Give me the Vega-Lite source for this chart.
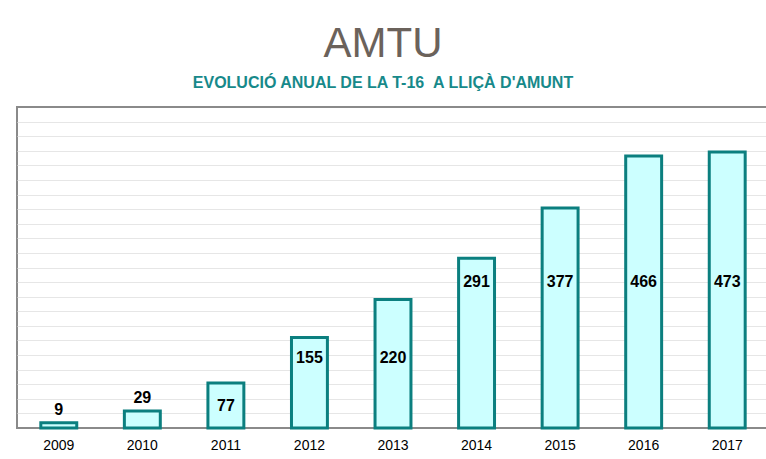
{
  "$schema": "https://vega.github.io/schema/vega-lite/v6.json",
  "width": 752,
  "height": 321,
  "padding": {"left": 17, "top": 23, "right": 0, "bottom": 0},
  "background": "white",
  "title": {
    "text": "AMTU",
    "subtitle": "EVOLUCIÓ ANUAL DE LA T-16\u00a0\u00a0A LLIÇÀ D'AMUNT",
    "anchor": "middle",
    "dx": -10,
    "font": "Liberation Sans",
    "fontSize": 42,
    "fontWeight": "normal",
    "color": "#6b625b",
    "subtitleFont": "Liberation Sans",
    "subtitleFontSize": 16,
    "subtitleFontWeight": "bold",
    "subtitleColor": "#17898a",
    "subtitlePadding": 9,
    "offset": 15
  },
  "data": {
    "values": [
      {"year": "2009", "value": 9},
      {"year": "2010", "value": 29},
      {"year": "2011", "value": 77},
      {"year": "2012", "value": 155},
      {"year": "2013", "value": 220},
      {"year": "2014", "value": 291},
      {"year": "2015", "value": 377},
      {"year": "2016", "value": 466},
      {"year": "2017", "value": 473}
    ]
  },
  "transform": [
    {"calculate": "datum.value < 50 ? datum.value + 22 : datum.value < 100 ? datum.value / 2 : datum.value < 250 ? 120 : 250", "as": "labelY"}
  ],
  "encoding": {
    "x": {
      "field": "year",
      "type": "ordinal",
      "title": null,
      "scale": {"paddingInner": 0.57, "paddingOuter": 0.285},
      "axis": {"labelAngle": 0, "ticks": false, "domain": false, "labelFont": "Liberation Sans", "labelFontSize": 14, "labelColor": "#000", "labelPadding": 10}
    }
  },
  "layer": [
    {
      "mark": {"type": "bar", "fill": "#ccffff", "stroke": "#0b7f7f", "strokeWidth": 3},
      "encoding": {
        "y": {
          "field": "value",
          "type": "quantitative",
          "title": null,
          "scale": {"domain": [0, 550], "nice": false},
          "axis": {"values": [25,50,75,100,125,150,175,200,225,250,275,300,325,350,375,400,425,450,475,500,525], "labels": false, "ticks": false, "domain": false, "grid": true, "gridColor": "#e6e6e6", "gridWidth": 1}
        }
      }
    },
    {
      "mark": {"type": "text", "font": "Liberation Sans", "fontSize": 16, "fontWeight": "bold", "color": "#000", "baseline": "middle"},
      "encoding": {
        "y": {"field": "labelY", "type": "quantitative", "scale": {"domain": [0, 550], "nice": false}, "axis": {"values": [25,50,75,100,125,150,175,200,225,250,275,300,325,350,375,400,425,450,475,500,525], "labels": false, "ticks": false, "domain": false, "grid": true, "gridColor": "#e6e6e6", "gridWidth": 1}},
        "text": {"field": "value", "type": "quantitative"}
      }
    }
  ],
  "config": {
    "view": {"stroke": "#8a8a8a", "strokeWidth": 2}
  }
}
